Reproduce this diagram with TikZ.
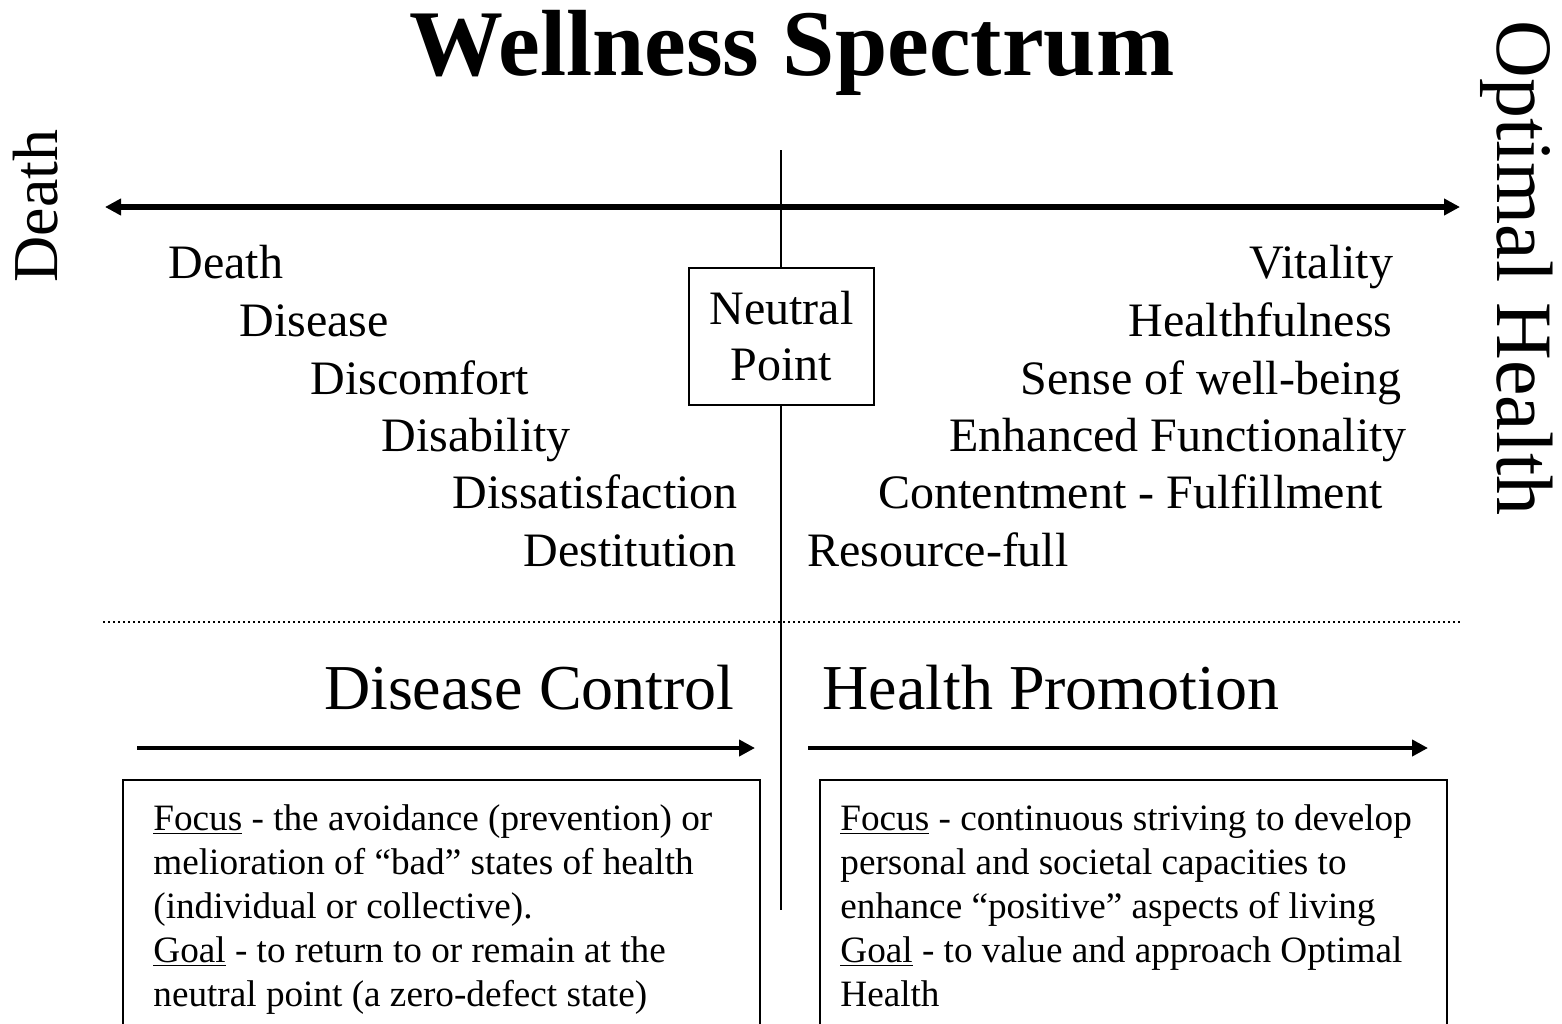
\documentclass[tikz,border=0pt]{standalone}
\usepackage{fontspec}
\setmainfont{Liberation Serif}
\usetikzlibrary{arrows.meta}
\begin{document}
\begin{tikzpicture}[x=0.5pt,y=-0.5pt,
  lbl/.style={inner sep=0pt, anchor=base west, font=\fontsize{24}{28}\selectfont},
  headtxt/.style={inner sep=0pt, font=\fontsize{32}{38}\selectfont},
  bodytxt/.style={inner sep=0pt, anchor=base west, font=\fontsize{18.6}{22}\selectfont},
  mainarrow/.style={line width=2.75pt, {Triangle[length=8pt,width=8pt]}-{Triangle[length=8pt,width=8pt]}},
  subarrow/.style={line width=2pt, -{Triangle[length=8pt,width=8pt]}},
  boxline/.style={line width=1pt}]
\clip (0,0) rectangle (1562,1023);
\fill[white] (0,0) rectangle (1562,1023);

% title and side labels
\node[inner sep=0pt, anchor=base, font=\bfseries\fontsize{47}{56}\selectfont] (title) at (792,75) {Wellness Spectrum};
\node[rotate=90, inner sep=0pt, font=\fontsize{32}{38}\selectfont] (deathside) at (36,206) {Death};
\node[rotate=-90, inner sep=0pt, font=\fontsize{40}{48}\selectfont] (optimal) at (1517,268) {Optimal Health};

% axis
\coordinate (axL) at (105,207);
\coordinate (axR) at (1460,207);
\draw[mainarrow] (axL) -- (axR);

% vertical divider
\coordinate (vT) at (781,150);
\coordinate (vB) at (781,910);
\draw[line width=1pt] (vT) -- (vB);

% neutral point
\node[draw, boxline, fill=white, minimum width=92.5pt, minimum height=68.5pt, align=center,
      inner sep=0pt, font=\fontsize{24}{28}\selectfont] (neutral) at (781.5,336.5) {Neutral\\Point};

% left list
\node[lbl] (l1) at (168,278) {Death};
\node[lbl] (l2) at (239,336) {Disease};
\node[lbl] (l3) at (310,394) {Discomfort};
\node[lbl] (l4) at (381,451) {Disability};
\node[lbl] (l5) at (452,508) {Dissatisfaction};
\node[lbl] (l6) at (523,566) {Destitution};

% right list
\node[lbl] (r1) at (1249,278) {Vitality};
\node[lbl] (r2) at (1128,336) {Healthfulness};
\node[lbl] (r3) at (1020,394) {Sense of well-being};
\node[lbl] (r4) at (949,451) {Enhanced Functionality};
\node[lbl] (r5) at (878,508) {Contentment - Fulfillment};
\node[lbl] (r6) at (807,566) {Resource-full};

% dotted separator
\coordinate (dotL) at (103,622);
\coordinate (dotR) at (1462,622);
\draw[line width=1pt, dash pattern=on 1pt off 1.5pt] (dotL) -- (dotR);

% headings
\node[headtxt, anchor=base east] (dc) at (735,709) {Disease Control};
\node[headtxt, anchor=base west] (hp) at (822,709) {Health Promotion};

% sub arrows
\coordinate (a1s) at (137,748);
\coordinate (a1e) at (755,748);
\coordinate (a2s) at (808,748);
\coordinate (a2e) at (1428,748);
\draw[subarrow] (a1s) -- (a1e);
\draw[subarrow] (a2s) -- (a2e);

% boxes (open at the bottom edge)
\draw[boxline] (123,1040) |- (760,780) -- (760,1040);
\draw[boxline] (820,1040) |- (1447,780) -- (1447,1040);

% left box text
\node[bodytxt] (lb1) at (153,830) {\underline{Focus} - the avoidance (prevention) or};
\node[bodytxt] (lb2) at (153,874) {melioration of “bad” states of health};
\node[bodytxt] (lb3) at (153,918) {(individual or collective).};
\node[bodytxt] (lb4) at (153,962) {\underline{Goal} - to return to or remain at the};
\node[bodytxt] (lb5) at (153,1006) {neutral point (a zero-defect state)};

% right box text
\node[bodytxt] (rb1) at (840,830) {\underline{Focus} - continuous striving to develop};
\node[bodytxt] (rb2) at (840,874) {personal and societal capacities to};
\node[bodytxt] (rb3) at (840,918) {enhance “positive” aspects of living};
\node[bodytxt] (rb4) at (840,962) {\underline{Goal} - to value and approach Optimal};
\node[bodytxt] (rb5) at (840,1006) {Health};
\end{tikzpicture}
\end{document}
